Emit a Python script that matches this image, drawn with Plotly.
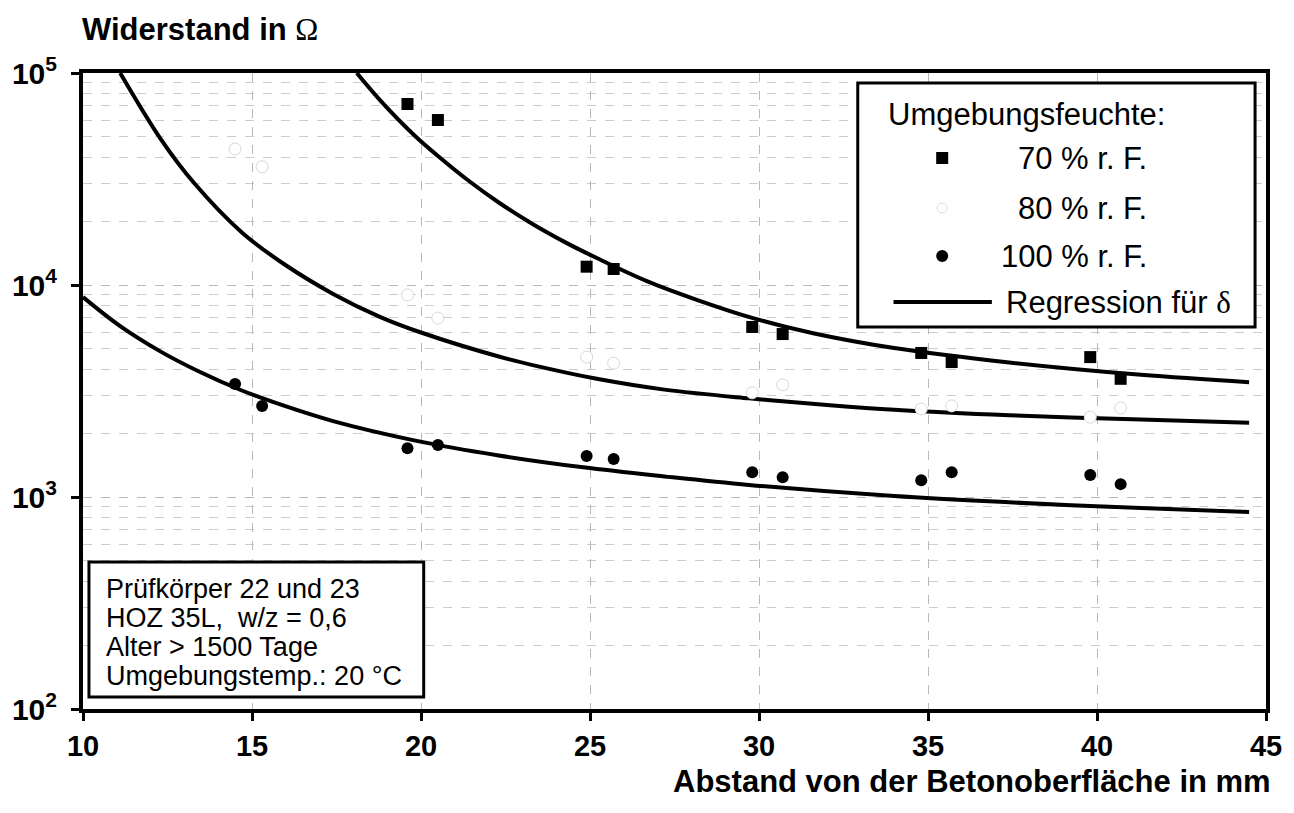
import plotly.graph_objects as go

# ---------------- data ----------------
x_70 = [19.6, 20.5, 24.9, 25.7, 29.8, 30.7, 34.8, 35.7, 39.8, 40.7]
r_70 = [71400, 60000, 12200, 11900, 6340, 5870, 4780, 4330, 4570, 3610]

x_80 = [14.5, 15.3, 19.6, 20.5, 24.9, 25.7, 29.8, 30.7, 34.8, 35.7, 39.8, 40.7]
r_80 = [43800, 36100, 8980, 6980, 4570, 4280, 3100, 3380, 2600, 2690, 2380, 2630]

x_100 = [14.5, 15.3, 19.6, 20.5, 24.9, 25.7, 29.8, 30.7, 34.8, 35.7, 39.8, 40.7]
r_100 = [3410, 2690, 1700, 1760, 1560, 1510, 1310, 1240, 1200, 1310, 1270, 1150]

reg70_x = [18.1, 18.8, 19.8, 20.6, 21.4, 22.3, 23.3, 24.3, 25.2, 26.7, 28.2, 29.9, 31.6, 34.0, 37.4, 41.3, 44.5]
reg70_y = [100000, 74100, 50900, 39400, 31100, 24500, 19400, 15800, 13400, 10400, 8470, 6920, 5920, 5040, 4310, 3770, 3480]

reg80_x = [11.1, 12.3, 13.3, 14.7, 15.9, 17.4, 18.8, 20.0, 22.3, 23.5, 25.2, 27.2, 29.7, 32.1, 34.0, 37.4, 41.3, 44.5]
reg80_y = [100000, 48800, 30100, 17700, 12700, 9080, 7060, 5970, 4600, 4120, 3610, 3210, 2920, 2710, 2580, 2430, 2320, 2240]

reg100_x = [10.0, 11.1, 12.3, 13.4, 14.7, 15.9, 17.4, 19.8, 22.3, 24.8, 27.2, 29.7, 34.0, 37.4, 41.3, 44.5]
reg100_y = [8770, 6400, 4850, 3930, 3180, 2710, 2280, 1850, 1570, 1380, 1250, 1140, 1010, 944, 887, 849]

x_ticks = [10, 15, 20, 25, 30, 35, 40, 45]
y_tickvals = [100, 1000, 10000, 100000]
y_ticktext = ["10<sup>2</sup>", "10<sup>3</sup>", "10<sup>4</sup>", "10<sup>5</sup>"]

legend_title = "Umgebungsfeuchte:"
legend_labels = ["70 % r. F.", "80 % r. F.", "100 % r. F."]
legend_reg = "Regression für <span style='font-family:Liberation Serif;font-weight:normal'>δ</span>"
info_lines = ["Prüfkörper 22 und 23", "HOZ 35L,  w/z = 0,6", "Alter > 1500 Tage", "Umgebungstemp.: 20 °C"]
y_title = "<b>Widerstand in </b><span style='font-family:Liberation Serif'>Ω</span>"
x_title = "<b>Abstand von der Betonoberfläche in mm</b>"

# ---------------- layout geometry ----------------
W, H = 1294, 813
L, R, T, B = 82, 1273, 73, 709
FONT = "Liberation Sans, Arial, sans-serif"


def px(xp):
    return (xp - L) / (R - L)


def py(yp):
    return (B - yp) / (B - T)


fig = go.Figure()

for xs, ys in [(reg70_x, reg70_y), (reg80_x, reg80_y), (reg100_x, reg100_y)]:
    fig.add_trace(go.Scatter(x=xs, y=ys, mode="lines",
                             line=dict(color="black", width=4, shape="spline", smoothing=1.0),
                             showlegend=False, hoverinfo="skip"))

fig.add_trace(go.Scatter(x=x_70, y=r_70, mode="markers",
                         marker=dict(symbol="square", size=12, color="black"),
                         showlegend=False))
fig.add_trace(go.Scatter(x=x_80, y=r_80, mode="markers",
                         marker=dict(symbol="circle", size=12, color="white",
                                     line=dict(color="#d8d8d8", width=1)),
                         showlegend=False))
fig.add_trace(go.Scatter(x=x_100, y=r_100, mode="markers",
                         marker=dict(symbol="circle", size=12, color="black"),
                         showlegend=False))

grid = dict(gridcolor="#b8b8b8", gridwidth=1, griddash="dash")

fig.update_xaxes(range=[10, 45], tickvals=x_ticks, showline=True, linecolor="black",
                 linewidth=4, mirror=True, ticks="outside", ticklen=8, tickwidth=3,
                 tickcolor="black", showgrid=True, zeroline=False,
                 tickfont=dict(family=FONT, size=29, color="black", weight="bold"),
                 ticklabelstandoff=0, **grid)
fig.update_yaxes(type="log", range=[2, 5], tickvals=y_tickvals, ticktext=y_ticktext,
                 showline=True, linecolor="black", linewidth=4, mirror=True,
                 ticks="outside", ticklen=8, tickwidth=3, tickcolor="black",
                 showgrid=True, zeroline=False,
                 tickfont=dict(family=FONT, size=30, color="black", weight="bold"),
                 ticklabelstandoff=8,
                 minor=dict(dtick="D1", showgrid=True, gridcolor="#cccccc",
                            gridwidth=1, griddash="dash", ticks=""),
                 **grid)

shapes = []
annotations = []

# axis titles
annotations.append(dict(x=px(79), y=py(29), xref="paper", yref="paper", text=y_title,
                        showarrow=False, xanchor="left", yanchor="middle",
                        font=dict(family=FONT, size=31, color="black")))
annotations.append(dict(x=px(1280), y=py(781), xref="paper", yref="paper", text=x_title,
                        showarrow=False, xanchor="right", yanchor="middle",
                        font=dict(family=FONT, size=31, color="black")))

# legend box
shapes.append(dict(type="rect", xref="paper", yref="paper", x0=px(862), x1=px(1262),
                   y0=py(327), y1=py(83), line=dict(color="black", width=3),
                   fillcolor="white", layer="above"))
LF = dict(family=FONT, size=31, color="black")
annotations.append(dict(x=px(890), y=py(114), xref="paper", yref="paper", text=legend_title,
                        showarrow=False, xanchor="left", yanchor="middle", font=LF))
row_y = [158, 208, 256]
for lab, yy in zip(legend_labels, row_y):
    annotations.append(dict(x=px(1155), y=py(yy), xref="paper", yref="paper", text=lab,
                            showarrow=False, xanchor="right", yanchor="middle", font=LF))
annotations.append(dict(x=px(1009), y=py(302), xref="paper", yref="paper", text=legend_reg,
                        showarrow=False, xanchor="left", yanchor="middle", font=LF))
# legend symbols
shapes.append(dict(type="rect", xref="paper", yref="paper", xsizemode="pixel", ysizemode="pixel",
                   xanchor=px(947), yanchor=py(158), x0=-6, x1=6, y0=-6, y1=6,
                   fillcolor="black", line=dict(width=0), layer="above"))
shapes.append(dict(type="circle", xref="paper", yref="paper", xsizemode="pixel", ysizemode="pixel",
                   xanchor=px(947), yanchor=py(208), x0=-5, x1=5, y0=-5, y1=5,
                   fillcolor="white", line=dict(color="#dddddd", width=1), layer="above"))
shapes.append(dict(type="circle", xref="paper", yref="paper", xsizemode="pixel", ysizemode="pixel",
                   xanchor=px(947), yanchor=py(256), x0=-6, x1=6, y0=-6, y1=6,
                   fillcolor="black", line=dict(width=0), layer="above"))
shapes.append(dict(type="line", xref="paper", yref="paper", x0=px(898), x1=px(997),
                   y0=py(302), y1=py(302), line=dict(color="black", width=4), layer="above"))

# info box
shapes.append(dict(type="rect", xref="paper", yref="paper", x0=px(88), x1=px(425),
                   y0=py(697), y1=py(562), line=dict(color="black", width=3),
                   fillcolor="white", layer="above"))
for line, yy in zip(info_lines, [589, 618, 647, 676]):
    annotations.append(dict(x=px(103), y=py(yy), xref="paper", yref="paper", text=line,
                            showarrow=False, xanchor="left", yanchor="middle",
                            font=dict(family=FONT, size=27, color="black")))

fig.update_layout(width=W, height=H, margin=dict(l=L, r=W - R, t=T, b=H - B),
                  paper_bgcolor="white", plot_bgcolor="white", showlegend=False,
                  shapes=shapes, annotations=annotations,
                  font=dict(family=FONT, color="black"))

fig.write_html("out.html")
